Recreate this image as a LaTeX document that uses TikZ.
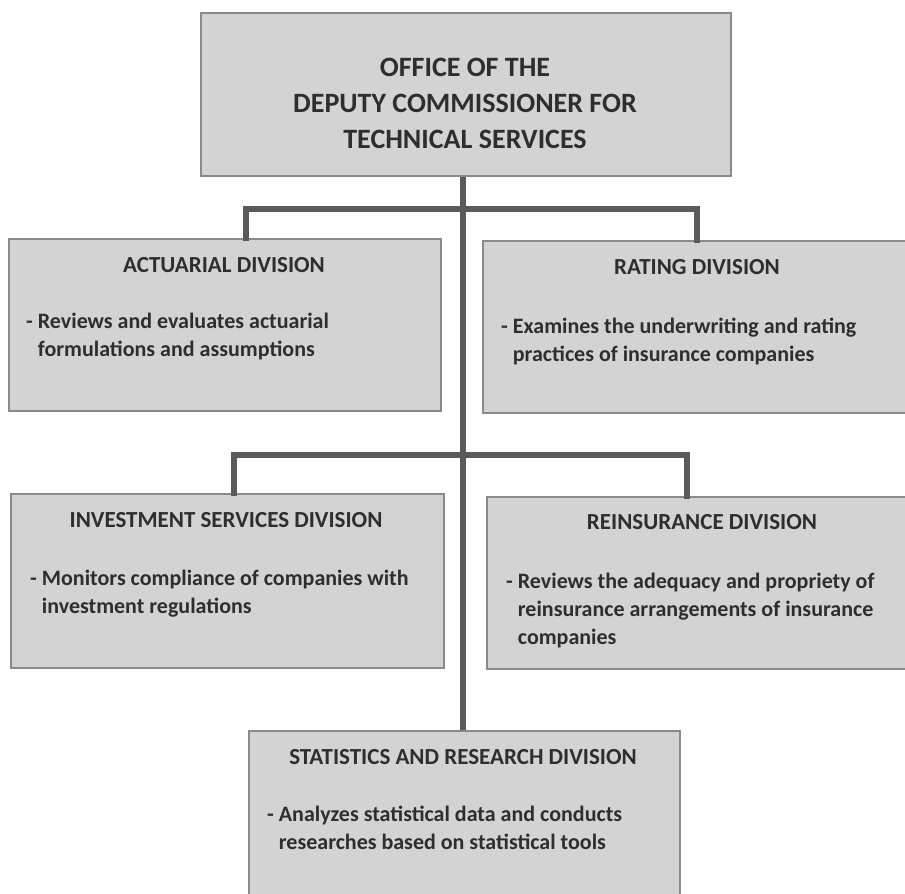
\documentclass[tikz,border=0pt]{standalone}
\usepackage{fontspec}
\setmainfont{Carlito}
\newcommand{\ind}{\phantom{-\ }}
\begin{document}
\begin{tikzpicture}[x=1pt,y=-1pt,
  box/.style={draw=boxedge, fill=boxfill, line width=1.6pt, anchor=north west, inner sep=0pt, rectangle},
  link/.style={draw=linkgray, line width=6pt},
  toptitle/.style={text=txtgray, font=\fontsize{28}{36}\selectfont\bfseries, align=center, inner sep=0pt},
  divtitle/.style={text=txtgray, font=\fontsize{23}{28}\selectfont\bfseries, inner sep=0pt},
  body/.style={text=txtgray, font=\fontsize{22}{28}\selectfont\bfseries, align=left, inner sep=0pt, anchor=base west}
]
\definecolor{boxfill}{HTML}{D3D3D3}
\definecolor{boxedge}{HTML}{8A8A8A}
\definecolor{linkgray}{HTML}{5A5A5A}
\definecolor{txtgray}{HTML}{2E2E2E}
\useasboundingbox (0,0) rectangle (905,894);

% boxes
\node[box, minimum width=530pt, minimum height=163pt] (top) at (200,12) {};
\node[box, minimum width=432pt, minimum height=172pt] (act) at (8,238) {};
\node[box, minimum width=430pt, minimum height=172pt] (rat) at (482,240) {};
\node[box, minimum width=433pt, minimum height=174pt] (inv) at (10,493) {};
\node[box, minimum width=425pt, minimum height=172pt] (rei) at (486,496) {};
\node[box, minimum width=431pt, minimum height=180pt] (sta) at (248,730) {};

% junction coordinates
\coordinate (j1) at (463,209);
\coordinate (j1l) at (246,209);
\coordinate (j1r) at (697,209);
\coordinate (j2) at (463,455);
\coordinate (j2l) at (234,455);
\coordinate (j2r) at (687,455);

% connectors
\draw[link] (top.south -| j1) -- (sta.north -| j1);
\draw[link, line cap=rect] (j1l |- act.north) -- (j1l) -- (j1r) -- (j1r |- rat.north);
\draw[link, line cap=rect] (j2l |- inv.north) -- (j2l) -- (j2r) -- (j2r |- rei.north);

% texts
\node[toptitle] (toptxt) at (465,103) {OFFICE OF THE\\DEPUTY COMMISSIONER FOR\\TECHNICAL SERVICES};

\node[divtitle] (actt) at (224,265) {ACTUARIAL DIVISION};
\node[body] (actb) at (26,356) {- Reviews and evaluates actuarial\\\ind formulations and assumptions};

\node[divtitle] (ratt) at (697,267) {RATING DIVISION};
\node[body] (ratb) at (501,361) {- Examines the underwriting and rating\\\ind practices of insurance companies};

\node[divtitle] (invt) at (226,520) {INVESTMENT SERVICES DIVISION};
\node[body] (invb) at (30,613) {- Monitors compliance of companies with\\\ind investment regulations};

\node[divtitle] (reit) at (702,522) {REINSURANCE DIVISION};
\node[body] (reib) at (506,644) {- Reviews the adequacy and propriety of\\\ind reinsurance arrangements of insurance\\\ind companies};

\node[divtitle] (stat) at (463,757) {STATISTICS AND RESEARCH DIVISION};
\node[body] (stab) at (267,849) {- Analyzes statistical data and conducts\\\ind researches based on statistical tools};
\end{tikzpicture}
\end{document}
